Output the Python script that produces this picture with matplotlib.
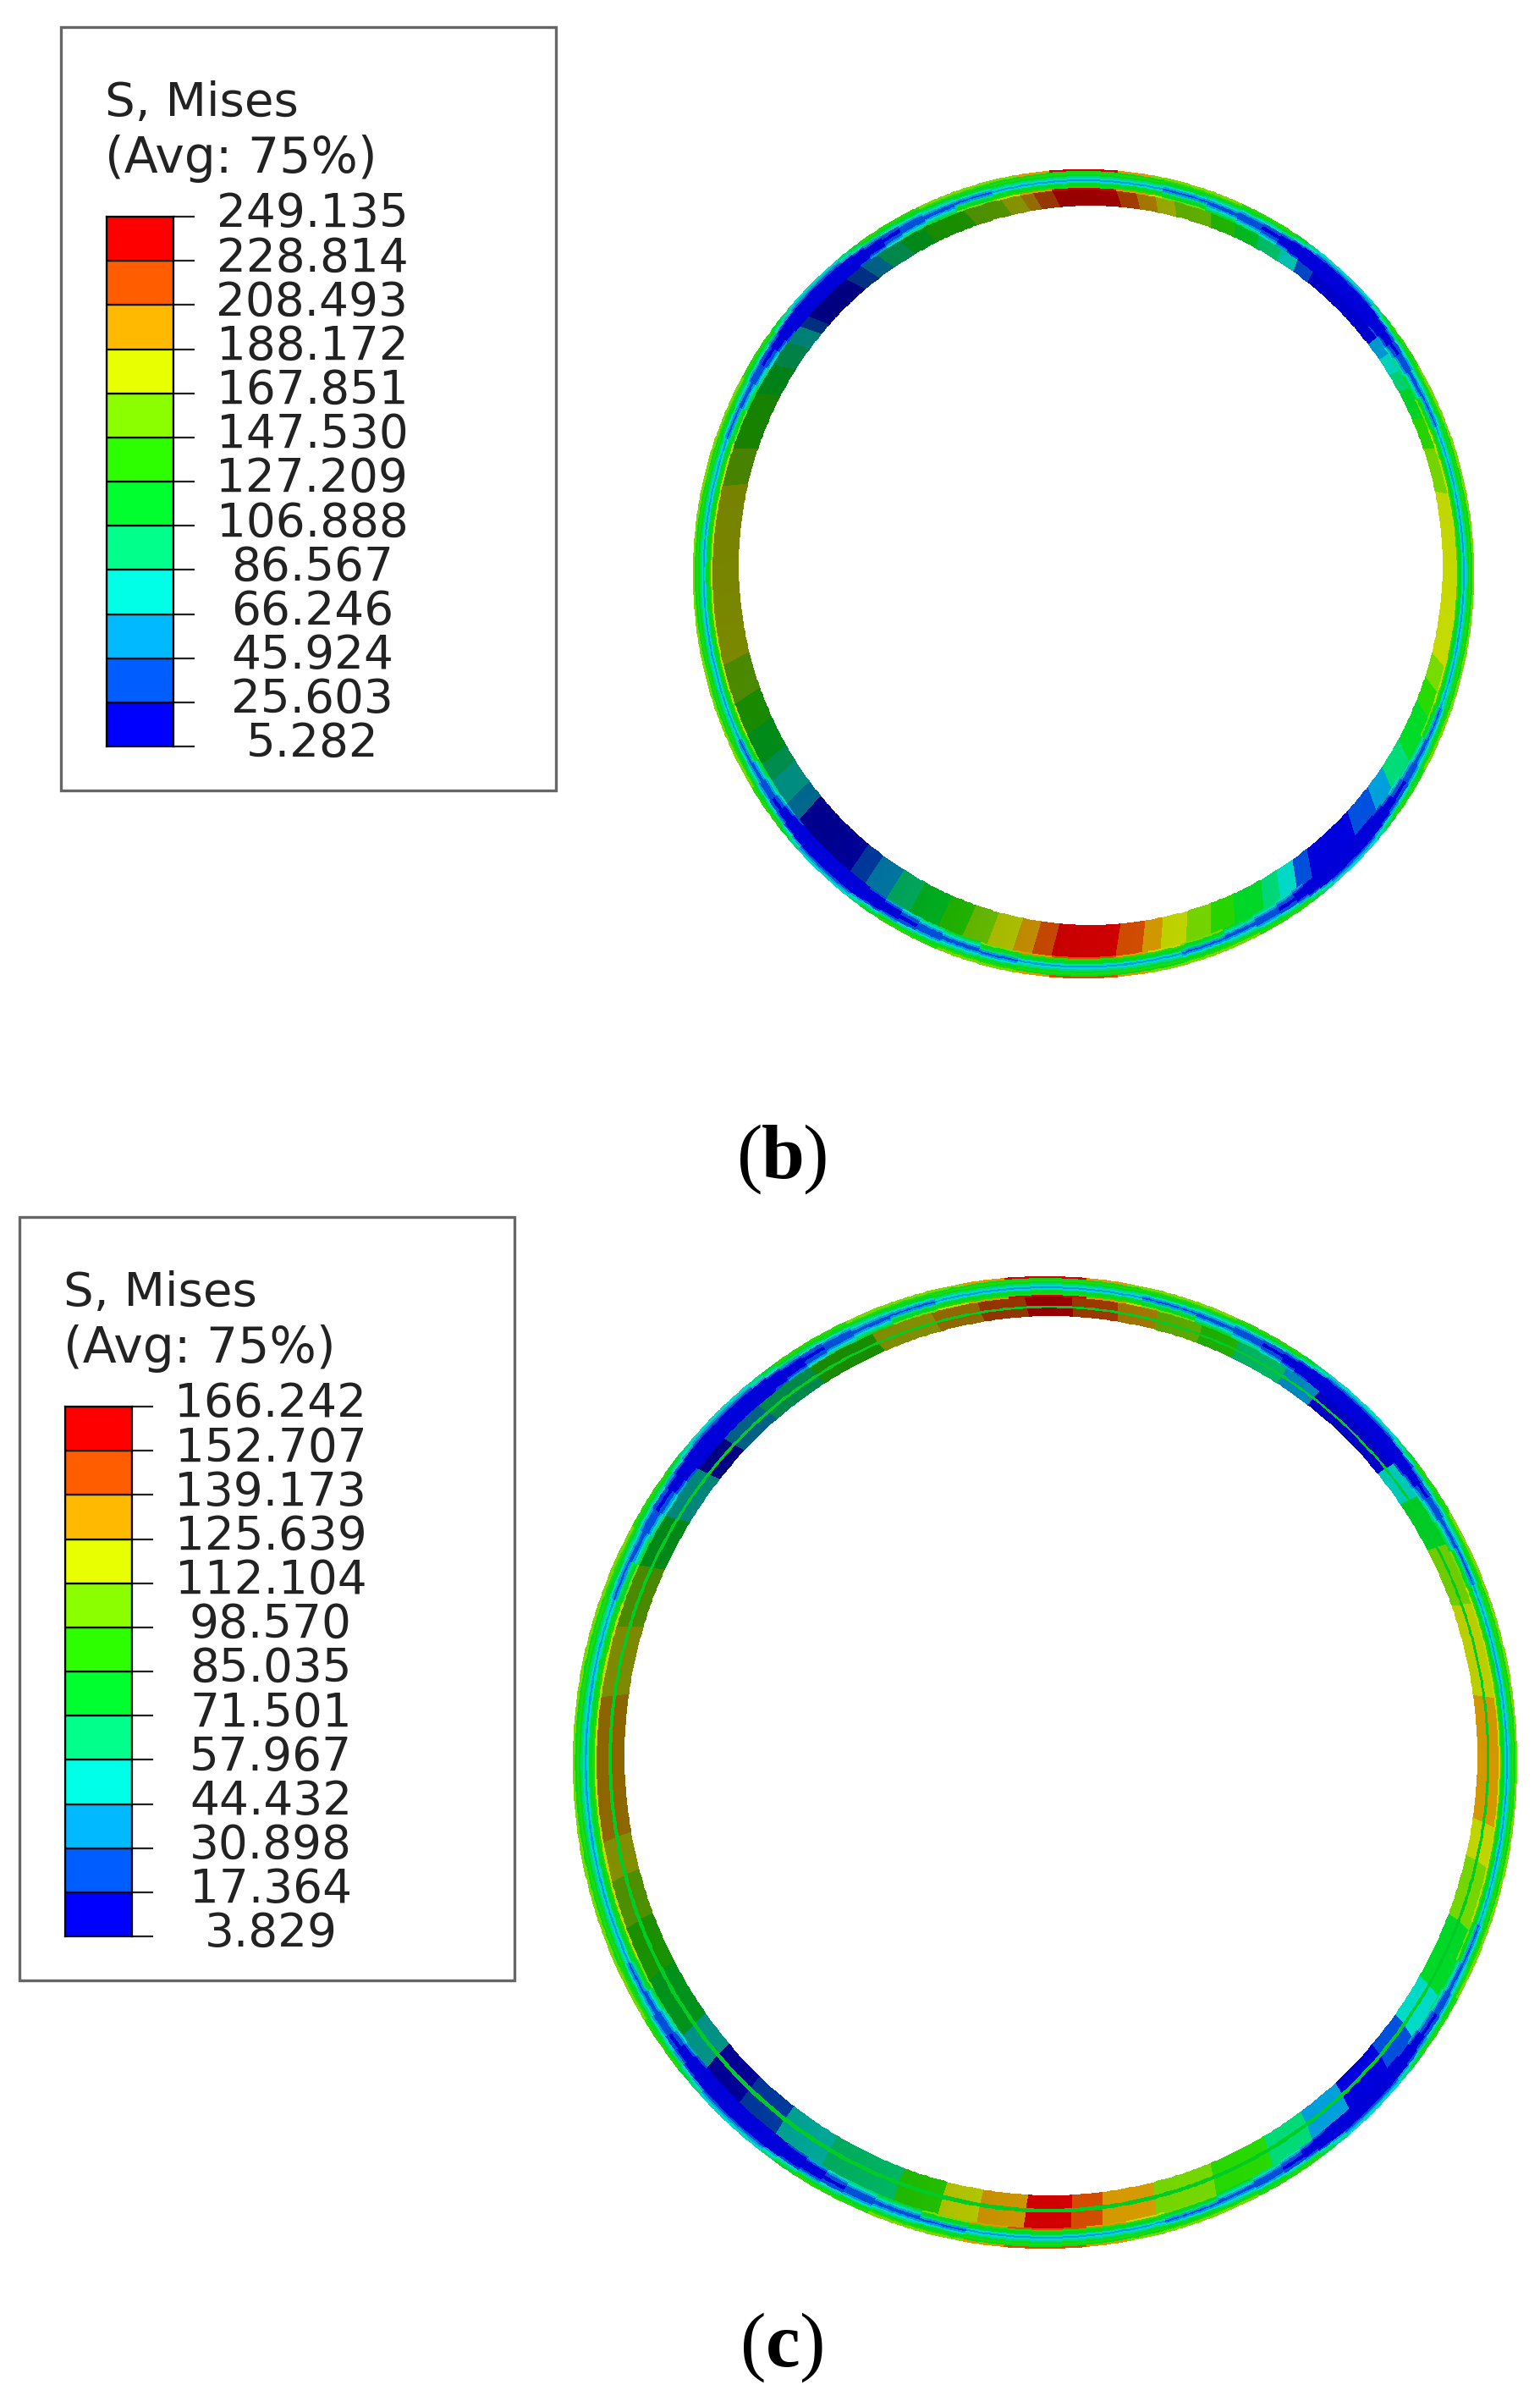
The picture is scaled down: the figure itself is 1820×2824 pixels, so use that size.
import numpy as np
import matplotlib
matplotlib.use('Agg')
import matplotlib.pyplot as plt
from matplotlib.colors import to_rgb
from matplotlib.patches import Rectangle

# legend colours, low to high (Abaqus rainbow)
level_colors = ['#0000FF', '#005DFF', '#00B9FF', '#00FFE7', '#00FF8B', '#00FF2E',
                '#2EFF00', '#8BFF00', '#E7FF00', '#FFB900', '#FF5D00', '#FF0000']

b_ticks = ['5.282', '25.603', '45.924', '66.246', '86.567', '106.888', '127.209',
           '147.530', '167.851', '188.172', '208.493', '228.814', '249.135']
c_ticks = ['3.829', '17.364', '30.898', '44.432', '57.967', '71.501', '85.035',
           '98.570', '112.104', '125.639', '139.173', '152.707', '166.242']

# contour bands of the inner wall, angle edges in degrees (0 = right, counter clockwise)
b_inner_edges = [-180, -166, -160, -155, -150, -147, -143, -140, -129, -126,
                 -122, -118, -113, -109, -105, -101, -98, -95, -85, -81,
                 -78, -74, -70, -66, -61, -58, -55, -52, -43, -38,
                 -34, -29, -22, -18, -14, 12, 19, 24, 29, 32,
                 35, 38, 52, 55, 58, 62, 66, 70, 76, 79,
                 82, 85, 95, 98, 100, 103, 109, 116, 120, 124,
                 127, 130, 138, 140, 143, 147, 152, 161, 167, 180]
b_inner_levels = [8, 7, 6, 5, 4, 3, 2, 0, 1, 2,
                  4, 5, 6, 7, 8, 9, 10, 11, 10, 9,
                  8, 7, 6, 5, 4, 3, 1, 0, 1, 2,
                  4, 5, 6, 7, 8, 7, 6, 5, 4, 3,
                  2, 0, 1, 3, 4, 5, 6, 7, 8, 9,
                  10, 11, 10, 9, 8, 7, 6, 5, 4, 2,
                  1, 0, 1, 3, 4, 5, 6, 7, 8]

c_inner_edges = [-180, -170, -165, -159, -152, -144, -139, -133, -127, -120,
                 -110, -104, -99, -93, -87, -83, -76, -68, -60, -54,
                 -48, -41, -36, -30, -21, -13, -8, 8, 20, 28,
                 35, 40, 53, 58, 65, 70, 76, 81, 87, 93,
                 99, 105, 113, 122, 130, 136, 141, 148, 155, 163,
                 172, 180]
c_inner_levels = [9, 8, 7, 6, 5, 3, 0, 1, 3, 4,
                  6, 8, 9, 11, 10, 9, 7, 6, 4, 2,
                  0, 1, 3, 5, 7, 8, 9, 8, 7, 5,
                  3, 0, 2, 4, 6, 7, 9, 10, 11, 10,
                  9, 8, 6, 4, 2, 0, 3, 5, 7, 8,
                  9]

# radial profiles of the outer wall, wall side first, blue zone grows with the index
outer_profiles = [[8, 6, 5, 5, 3, 2, 3, 4, 5, 6, 5, 7],
                  [7, 5, 5, 4, 2, 1, 2, 3, 5, 5, 6, 7],
                  [5, 4, 3, 2, 1, 1, 2, 3, 4, 5, 6, 7],
                  [4, 3, 2, 1, 1, 1, 1, 2, 3, 5, 5, 6],
                  [3, 2, 1, 1, 0, 0, 1, 1, 3, 4, 5, 6],
                  [2, 1, 0, 0, 0, 0, 0, 1, 2, 4, 5, 6],
                  [1, 0, 0, 0, 0, 0, 0, 0, 1, 3, 4, 5],
                  [0, 0, 0, 0, 0, 0, 0, 0, 0, 2, 3, 4],
                  [0, 0, 0, 0, 0, 0, 0, 0, 0, 1, 2, 3]]
outer_edges = [-180,
               -155, -151, -148, -145, -143, -141, -139, -137, -127, -125, -122, -119, -116, -112, -106, -100,
               -75, -68, -63, -59, -56, -54, -52, -50, -41, -39, -37, -35, -32, -29, -25, -20,
               22, 27, 31, 34, 36, 38, 40, 42, 53, 55, 57, 59, 62, 66, 71, 78,
               104, 110, 115, 119, 122, 125, 127, 129, 139, 141, 143, 145, 148, 151, 155, 160, 180]
outer_states = [0,
                1, 2, 3, 4, 5, 6, 7, 8, 7, 6, 5, 4, 3, 2, 1, 0,
                1, 2, 3, 4, 5, 6, 7, 8, 7, 6, 5, 4, 3, 2, 1, 0,
                1, 2, 3, 4, 5, 6, 7, 8, 7, 6, 5, 4, 3, 2, 1, 0,
                1, 2, 3, 4, 5, 6, 7, 8, 7, 6, 5, 4, 3, 2, 1, 0]

# hot spots on the rim, -1 keeps the profile
tip_edges = [-180, -100, -95, -85, -80, 80, 85, 95, 100, 180]
tip_levels = [-1, 9, 10, 9, -1, 9, 11, 9, -1]

# light on the wall, by angle
light_angles = [-180, -135, -90, -45, 0, 45, 90, 135, 180]
b_light = [0.52, 0.56, 0.80, 0.87, 0.85, 0.80, 0.60, 0.50, 0.52]
c_light = [0.55, 0.58, 0.82, 0.87, 0.82, 0.78, 0.58, 0.52, 0.55]


def lookup(edges, values, theta):
    idx = np.searchsorted(edges, theta, side='right') - 1
    return np.asarray(values)[np.clip(idx, 0, len(values) - 1)]


def boundary(ell, theta):
    cx, cy, rx, ry = ell
    t = np.radians(theta)
    return cx + rx * np.cos(t), cy - ry * np.sin(t)


def draw_ring(ax, ells, inner_edges, inner_levels, light, line_level=None):
    # ells: hole, split, outer ellipses (and the thin line in between for c)
    rgb = np.array([to_rgb(c) for c in level_colors])
    theta_edge = np.arange(-180, 180.25, 0.5)
    theta = 0.5 * (theta_edge[1:] + theta_edge[:-1])
    shade = np.interp(theta, light_angles, light)[:, None]

    hole, split, outer = ells['hole'], ells['split'], ells['outer']
    hx, hy = boundary(hole, theta_edge)
    sx, sy = boundary(split, theta_edge)
    ox, oy = boundary(outer, theta_edge)

    xs, ys, cols = [], [], []
    inner_col = rgb[lookup(inner_edges, inner_levels, theta)] * shade
    if line_level is None:
        xs += [hx]
        ys += [hy]
        cols += [inner_col]
    else:
        mx, my = boundary(ells['mid'], theta_edge)
        xs += [hx, mx - (mx - hx) * 0.12, mx + (sx - mx) * 0.12]
        ys += [hy, my - (my - hy) * 0.12, my + (sy - my) * 0.12]
        cols += [inner_col, rgb[np.full(theta.shape, line_level)] * 0.8, inner_col]

    states = lookup(outer_edges, outer_states, theta)
    profile = np.array(outer_profiles)[states]
    tips = lookup(tip_edges, tip_levels, theta)
    n = profile.shape[1]
    for k in range(n):
        f = k / n
        xs.append(sx + (ox - sx) * f)
        ys.append(sy + (oy - sy) * f)
        lev = profile[:, k].copy()
        if k in (0, n - 1):
            lev[tips >= 0] = tips[tips >= 0]
        cols.append(rgb[lev] * 0.85)
    xs.append(ox)
    ys.append(oy)

    X = np.vstack(xs)
    Y = np.vstack(ys)
    C = np.clip(np.stack(cols), 0, 1)
    ax.pcolormesh(X, Y, C, shading='flat', antialiased=False, linewidth=0, zorder=2)


def draw_legend(fig, ax, x0, y0, ticks):
    W, H = fig.get_size_inches() * fig.dpi
    ax.add_patch(Rectangle((x0, y0), 585, 902, fc='white', ec='#666666', lw=2.4, zorder=1))
    ax.text(x0 + 52, y0 + 90, 'S, Mises', fontsize=40.5, color='#222222', va='center', ha='left')
    ax.text(x0 + 52, y0 + 155, '(Avg: 75%)', fontsize=42, color='#222222', va='center', ha='left')

    # colour bar axes
    cax = fig.add_axes([(x0 + 54) / W, 1 - (y0 + 850) / H, 79 / W, 626 / H])
    cax.barh(np.arange(12) + 0.5, np.ones(12), height=1, color=level_colors,
             edgecolor='black', linewidth=1.6)
    cax.set_xlim(0, 1)
    cax.set_ylim(0, 12)
    cax.set_xticks([])
    cax.set_yticks(np.arange(13))
    cax.yaxis.tick_right()
    cax.set_yticklabels([])
    cax.tick_params(axis='y', length=18, width=1.6, color='#222222')
    for s in cax.spines.values():
        s.set_linewidth(1.6)
    for i, lab in enumerate(ticks):
        cax.annotate(lab, xy=(1, i), xycoords=cax.get_yaxis_transform(), xytext=(118, 2),
                     textcoords='offset points', ha='center', va='center',
                     fontsize=39.5, color='#222222')


def caption(ax, xc, y, letter, half):
    kw = dict(family='Liberation Serif', fontsize=66, color='black', va='center')
    ax.text(xc - half, y, '(', ha='left', **kw)
    ax.text(xc, y, letter, ha='center', fontweight='bold', **kw)
    ax.text(xc + half, y, ')', ha='right', **kw)


fig = plt.figure(figsize=(18.2, 28.24), dpi=100)
ax = fig.add_axes([0, 0, 1, 1])
ax.set_xlim(0, 1820)
ax.set_ylim(2824, 0)
ax.axis('off')

draw_legend(fig, ax, 72, 32, b_ticks)
draw_legend(fig, ax, 23, 1438, c_ticks)

# ellipses in pixels: centre x, centre y, radius x, radius y
b_ells = {'outer': (1280.5, 678, 461.5, 478),
          'split': (1281, 677.5, 439, 453.5),
          'hole': (1289, 668, 416, 425)}
c_ells = {'outer': (1235, 2082.5, 558, 574.5),
          'split': (1238, 2082.5, 533, 550.5),
          'mid': (1240, 2078, 519, 534),
          'hole': (1242, 2074.5, 504, 519.5)}
draw_ring(ax, b_ells, b_inner_edges, b_inner_levels, b_light)
draw_ring(ax, c_ells, c_inner_edges, c_inner_levels, c_light, line_level=5)

caption(ax, 925, 1370, 'b', 54)
caption(ax, 925, 2774, 'c', 50)

fig.savefig('out.png', dpi=100, facecolor='white')
